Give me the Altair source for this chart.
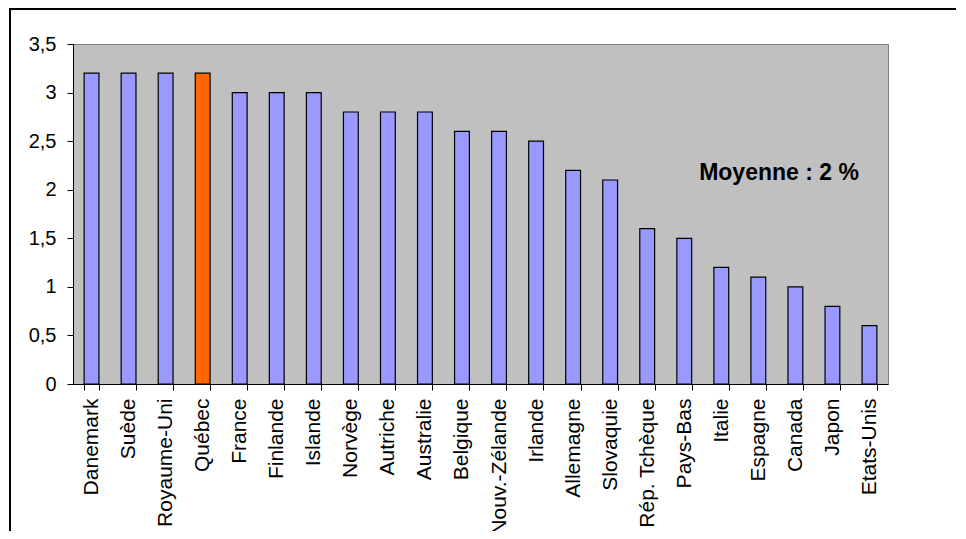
import altair as alt
import pandas as pd

pays = ["Danemark", "Suède", "Royaume-Uni", "Québec", "France", "Finlande", "Islande",
        "Norvège", "Autriche", "Australie", "Belgique", "Nouv.-Zélande", "Irlande",
        "Allemagne", "Slovaquie", "Rép. Tchèque", "Pays-Bas", "Italie", "Espagne",
        "Canada", "Japon", "Etats-Unis"]
valeurs = [3.2, 3.2, 3.2, 3.2, 3.0, 3.0, 3.0, 2.8, 2.8, 2.8, 2.6, 2.6, 2.5,
           2.2, 2.1, 1.6, 1.5, 1.2, 1.1, 1.0, 0.8, 0.6]
mise_en_valeur = "Québec"
annotation = "Moyenne : 2 %"
y_ticks = [0, 0.5, 1, 1.5, 2, 2.5, 3, 3.5]

df = pd.DataFrame({
    "pays": pays,
    "valeur": valeurs,
    "groupe": ["Québec" if p == mise_en_valeur else "Autre" for p in pays],
})

FONT = "Liberation Sans"
W, H = 815, 340
PAD_L, PAD_T = 65, 36
TOTAL_W, TOTAL_H = 950, 523

bars = alt.Chart(df).mark_bar(stroke="black", strokeWidth=1.2).encode(
    x=alt.X("pays:N", sort=None, title=None,
            scale=alt.Scale(paddingInner=0.6, paddingOuter=0.3),
            axis=alt.Axis(labelAngle=-90, labelAlign="right", labelBaseline="middle",
                          labelFontSize=21, labelFont=FONT, labelColor="black",
                          labelPadding=8, tickSize=6, tickColor="black",
                          domainColor="black", tickBand="extent",
                          labelOverlap=False, labelBound=False)),
    y=alt.Y("valeur:Q", title=None,
            scale=alt.Scale(domain=[0, 3.5], nice=False),
            axis=alt.Axis(values=y_ticks, grid=False, tickSize=6, tickColor="black",
                          domainColor="black", labelFontSize=20, labelFont=FONT,
                          labelColor="black", labelPadding=11,
                          labelExpr="replace(toString(datum.value), '.', ',')")),
    color=alt.Color("groupe:N", legend=None,
                    scale=alt.Scale(domain=["Autre", "Québec"],
                                    range=["#9999FF", "#FF6600"])),
)

label = alt.Chart(pd.DataFrame({"t": [annotation]})).mark_text(
    font=FONT, fontSize=23, fontWeight="bold", color="black",
    align="center", baseline="middle"
).encode(text="t:N", x=alt.value(706), y=alt.value(129))

frame_left = alt.Chart(pd.DataFrame({"a": [0]})).mark_rule(
    stroke="black", strokeWidth=2, strokeCap="butt"
).encode(x=alt.value(-63), x2=alt.value(-63),
         y=alt.value(-36), y2=alt.value(TOTAL_H - PAD_T))
frame_top = alt.Chart(pd.DataFrame({"b": [1]})).mark_rule(
    stroke="black", strokeWidth=2, strokeCap="butt"
).encode(x=alt.value(-64), x2=alt.value(TOTAL_W - PAD_L - 2),
         y=alt.value(-35), y2=alt.value(-35))

chart = alt.layer(frame_left, frame_top, bars, label).properties(
    width=W, height=H,
    autosize=alt.AutoSizeParams(type="none"),
    padding={"left": PAD_L, "top": PAD_T,
             "right": TOTAL_W - PAD_L - W, "bottom": TOTAL_H - PAD_T - H},
).configure_view(
    fill="#C0C0C0", stroke="#808080", strokeWidth=1
)

chart.save("out.html", embed_options={"renderer": "svg", "actions": False})
